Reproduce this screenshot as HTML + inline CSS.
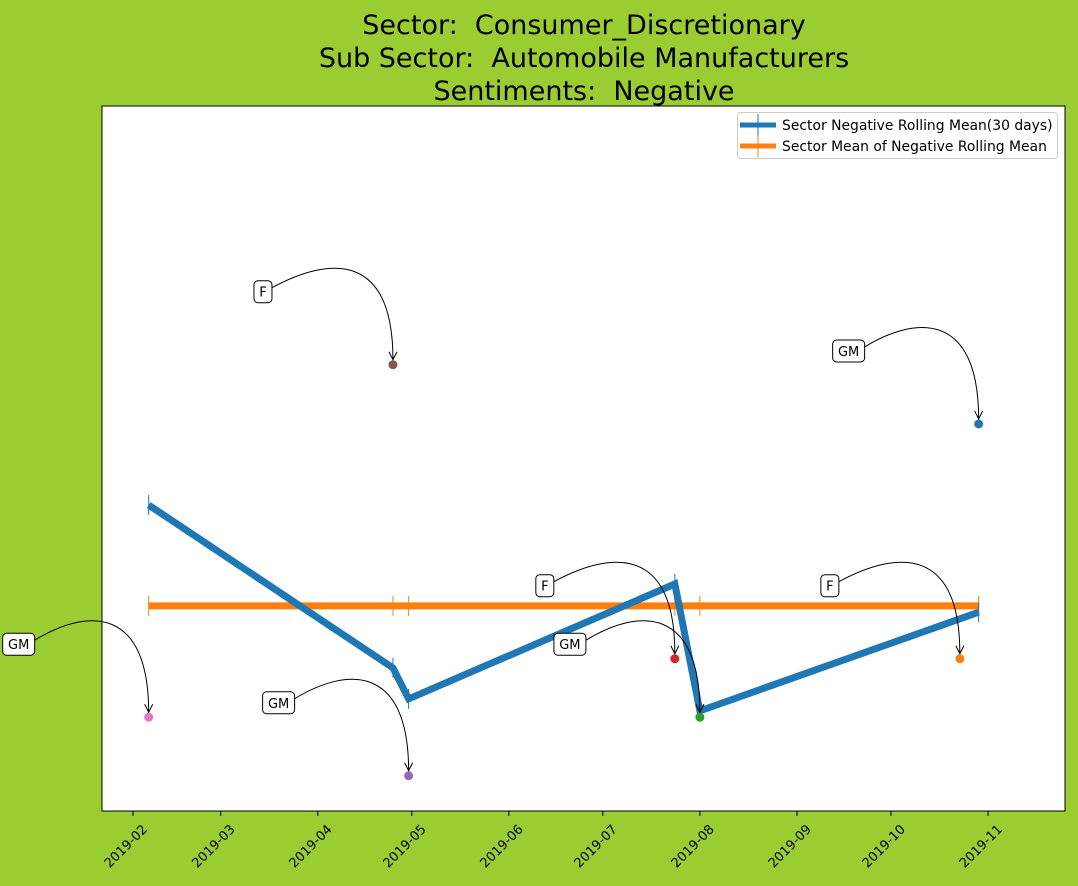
<!DOCTYPE html>
<html><head><meta charset="utf-8"><style>
body{margin:0;background:#9acd32;width:1078px;height:882px;overflow:hidden;font-family:"DejaVu Sans","Liberation Sans",sans-serif;}
text{white-space:pre;}
</style></head><body>
<svg id="chart" width="1078" height="882" xmlns="http://www.w3.org/2000/svg" font-family="DejaVu Sans, Liberation Sans, sans-serif">
<rect x="0" y="0" width="1078" height="882" fill="#9acd32"/>
<g font-size="27" text-anchor="middle" fill="#000">
<text x="584" y="34" xml:space="preserve">Sector:  Consumer_Discretionary</text>
<text x="584" y="67" xml:space="preserve">Sub Sector:  Automobile Manufacturers</text>
<text x="584" y="100" xml:space="preserve">Sentiments:  Negative</text>
</g>
<rect x="102" y="106" width="963" height="705" fill="#fff" stroke="#000" stroke-width="1"/>
<g id="xaxis"></g>
<g id="marks"></g>
<g>
<rect x="737.5" y="112.5" width="320" height="46" rx="3" fill="#fff" stroke="#ccc"/>
<line x1="740" y1="125" x2="776" y2="125" stroke="#1f77b4" stroke-width="5"/>
<line x1="758" y1="114" x2="758" y2="136" stroke="#1f77b4" stroke-width="1"/>
<text x="782" y="130" font-size="13.9">Sector Negative Rolling Mean(30 days)</text>
<line x1="740" y1="146" x2="776" y2="146" stroke="#ff7f0e" stroke-width="5"/>
<line x1="758" y1="135" x2="758" y2="157" stroke="#ff7f0e" stroke-width="1"/>
<text x="782" y="151" font-size="13.9">Sector Mean of Negative Rolling Mean</text>
</g>
</svg>
<script>
const lineDates=["2019-02-06","2019-04-25","2019-04-30","2019-07-24","2019-08-01","2019-10-29"];
const lineValues=[43.4,20.3,15.9,32.2,14.2,28.2];
const meanValue=29.1;
const pointDates=["2019-02-06","2019-04-25","2019-04-30","2019-07-24","2019-08-01","2019-10-29","2019-10-23"];
const pointValues=[13.3,63.3,5.0,21.6,13.3,54.9,21.6];
const pointLabels=["GM","F","GM","F","GM","GM","F"];
const pointColors=["#e377c2","#8c564b","#9467bd","#d62728","#2ca02c","#1f77b4","#ff7f0e"];
const tickLabels=["2019-02","2019-03","2019-04","2019-05","2019-06","2019-07","2019-08","2019-09","2019-10","2019-11"];
const NS="http://www.w3.org/2000/svg";
const t0=Date.UTC(2019,1,1);
function xs(d){const p=d.split("-");const t=Date.UTC(+p[0],+p[1]-1,p[2]?+p[2]:1);return 133+(t-t0)/86400000*3.132;}
function ys(v){return 811-v*7.05;}
function mk(tag,attrs,parent){const e=document.createElementNS(NS,tag);for(const k in attrs)e.setAttribute(k,attrs[k]);parent.appendChild(e);return e;}
const xa=document.getElementById("xaxis"),mg=document.getElementById("marks");
tickLabels.forEach(l=>{const x=xs(l);
const t=mk("line",{x1:x,y1:811,x2:x,y2:816,stroke:"#000"},xa);


const tx=mk("text",{x:0,y:0,"font-size":13,"text-anchor":"end",transform:`translate(${x+15},${830}) rotate(-45)`},xa);
tx.textContent=l;

});
const mx1=xs(lineDates[0]),mx2=xs(lineDates[lineDates.length-1]);
const ml=mk("line",{x1:mx1,y1:ys(meanValue),x2:mx2,y2:ys(meanValue),stroke:"#ff7f0e","stroke-width":7},mg);


lineDates.forEach(d=>{const x=xs(d);const e=mk("line",{x1:x,y1:ys(meanValue)-10,x2:x,y2:ys(meanValue)+10,stroke:"#ff7f0e","stroke-width":1},mg);

});
const pts=lineDates.map((d,i)=>xs(d)+","+ys(lineValues[i])).join(" ");
const pl=mk("polyline",{points:pts,fill:"none",stroke:"#1f77b4","stroke-width":7,"stroke-linejoin":"miter"},mg);


lineDates.forEach((d,i)=>{const x=xs(d),y=ys(lineValues[i]);const e=mk("line",{x1:x,y1:y-10,x2:x,y2:y+10,stroke:"#1f77b4","stroke-width":1},mg);

});
pointDates.forEach((d,i)=>{const x=xs(d),y=ys(pointValues[i]);
const c=mk("circle",{cx:x,cy:y,r:4.5,fill:pointColors[i]},mg);


const lx=x-130,ly=y-73;
const w=pointLabels[i].length>1?32:18;
const a=mk("path",{d:`M ${lx+w/2} ${ly-4} C ${x-60} ${y-110} ${x} ${y-110} ${x} ${y-5}`,fill:"none",stroke:"#000","stroke-width":1},mg);


const h=mk("path",{d:`M ${x-4} ${y-13} L ${x} ${y-5} L ${x+4} ${y-13}`,fill:"none",stroke:"#000","stroke-width":1},mg);


const b=mk("rect",{x:lx-w/2,y:ly-11,width:w,height:22,rx:4,fill:"#fff",stroke:"#000"},mg);


const t=mk("text",{x:lx,y:ly+5,"font-size":13,"text-anchor":"middle"},mg);
t.textContent=pointLabels[i];

});
</script>
</body></html>
